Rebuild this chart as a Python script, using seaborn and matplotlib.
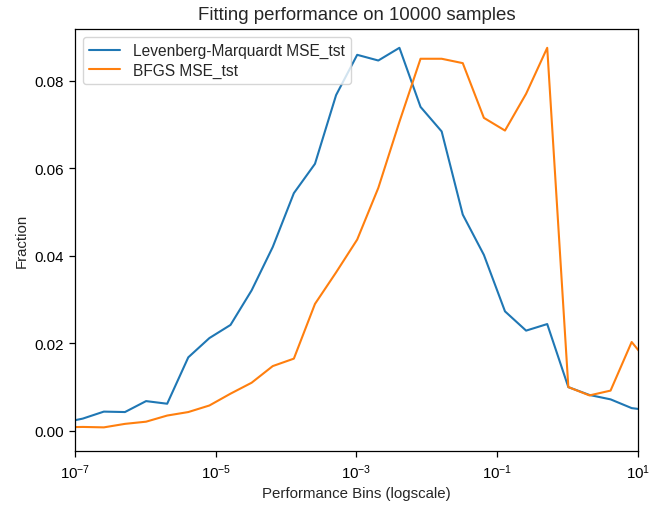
import numpy as np
import pandas as pd
import matplotlib
matplotlib.use("Agg")
import matplotlib.pyplot as plt
import matplotlib.ticker as mticker
import seaborn as sns

# log10 of the performance bin positions
bin_exponents = [-7.19, -6.89, -6.59, -6.29, -5.99, -5.69, -5.39, -5.09, -4.79, -4.49,
                 -4.19, -3.89, -3.59, -3.29, -2.99, -2.69, -2.39, -2.09, -1.79, -1.49,
                 -1.19, -0.89, -0.59, -0.29, 0.01, 0.31, 0.61, 0.91, 1.21]

lm_mse = [0.0018, 0.0028, 0.0044, 0.0043, 0.0068, 0.0062, 0.0168, 0.0212, 0.0242, 0.0321,
          0.0420, 0.0543, 0.0610, 0.0767, 0.0859, 0.0846, 0.0875, 0.0740, 0.0684, 0.0494,
          0.0402, 0.0273, 0.0229, 0.0244, 0.0100, 0.0082, 0.0072, 0.0052, 0.0046]

bfgs_mse = [0.0008, 0.0009, 0.0008, 0.0016, 0.0021, 0.0035, 0.0043, 0.0058, 0.0085, 0.0110,
            0.0148, 0.0165, 0.0290, 0.0362, 0.0437, 0.0555, 0.0706, 0.0850, 0.0850, 0.0840,
            0.0715, 0.0686, 0.0770, 0.0875, 0.0100, 0.0081, 0.0092, 0.0203, 0.0144]

series_names = ["Levenberg-Marquardt MSE_tst", "BFGS MSE_tst"]
x_ticks = [1e-7, 1e-5, 1e-3, 1e-1, 1e1]
y_ticks = [0.0, 0.02, 0.04, 0.06, 0.08]

sns.set_style("white")
plt.rcParams['font.family'] = ['Liberation Sans', 'DejaVu Sans']
plt.rcParams['mathtext.fontset'] = 'custom'
plt.rcParams['mathtext.rm'] = 'Liberation Sans'
plt.rcParams['mathtext.it'] = 'Liberation Sans:italic'

bins = 10 ** np.array(bin_exponents)
df = pd.concat([
    pd.DataFrame({"bin": bins, "fraction": lm_mse, "method": series_names[0]}),
    pd.DataFrame({"bin": bins, "fraction": bfgs_mse, "method": series_names[1]}),
])

fig = plt.figure(figsize=(6.63, 5.10), dpi=100)
ax = fig.add_axes([0.1131, 0.1137, 0.8492, 0.8275])

sns.lineplot(data=df, x="bin", y="fraction", hue="method", palette=["#1f77b4", "#ff7f0e"],
             linewidth=1.5, ax=ax)

ax.set_xscale("log")
ax.set_xlim(1e-7, 1e1)
ax.set_ylim(-0.0046, 0.0918)
ax.set_xticks(x_ticks)
ax.xaxis.set_minor_locator(mticker.NullLocator())
ax.set_yticks(y_ticks)
ax.yaxis.set_major_formatter(mticker.FormatStrFormatter('%.2f'))
ax.tick_params(axis='both', which='major', direction='out', length=4.5, width=0.9,
               colors='black', labelsize=10.8, bottom=True, left=True)
for sp in ax.spines.values():
    sp.set_color('black')
    sp.set_linewidth(0.9)

ax.set_title("Fitting performance on 10000 samples", fontsize=13.4, pad=7)
ax.set_xlabel("Performance Bins (logscale)", fontsize=10.8)
ax.set_ylabel("Fraction", fontsize=10.8)
ax.legend(loc="upper left", fontsize=11.2, title=None, labelspacing=0.3)

fig.savefig("out.png", dpi=100)
